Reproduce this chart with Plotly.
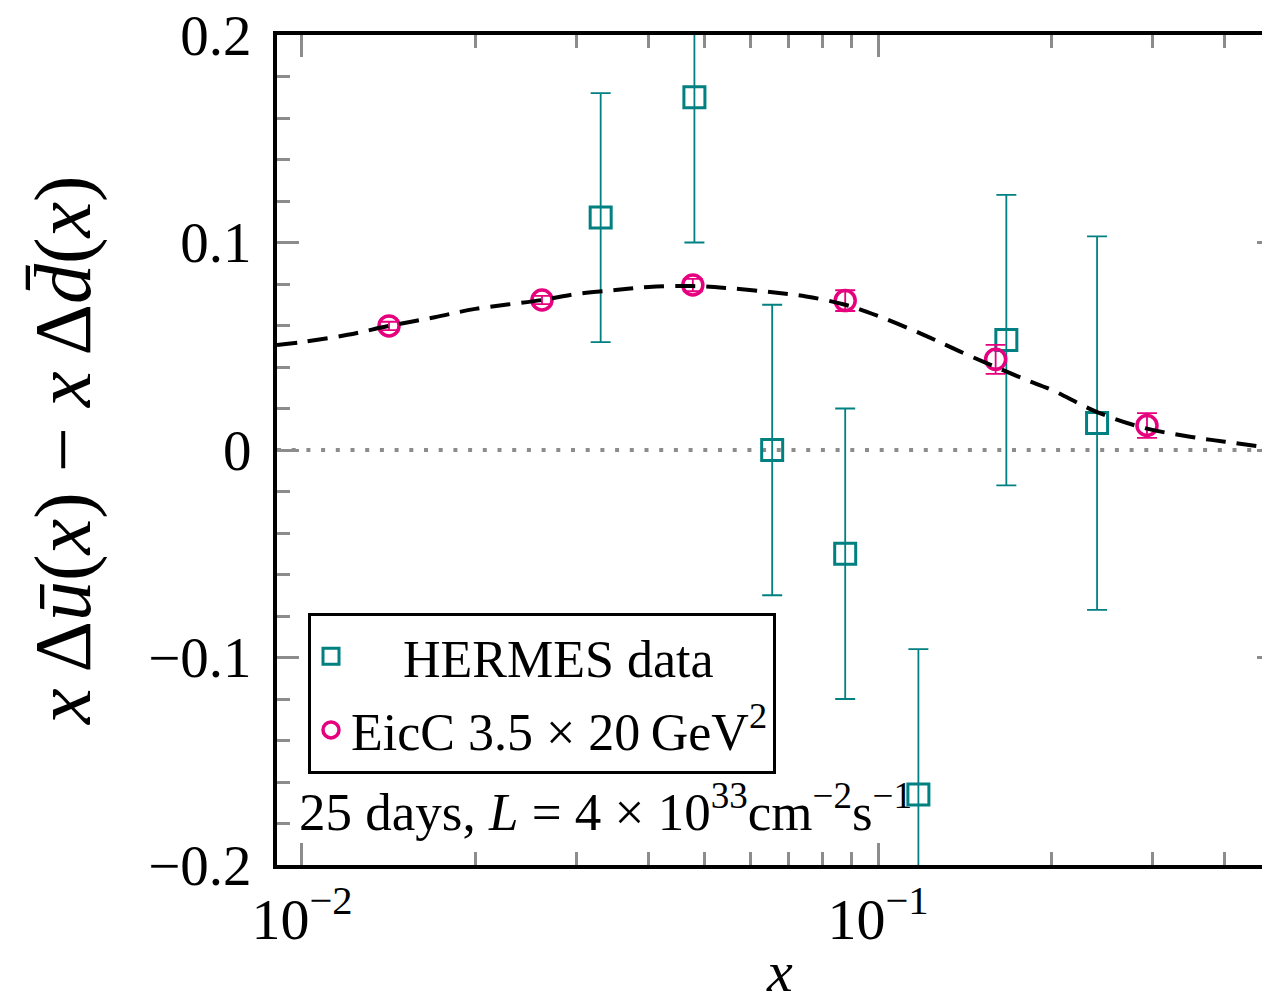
import numpy as np
import plotly.graph_objects as go

# ---- data ----
hermes_x = [0.033, 0.048, 0.0655, 0.0877, 0.1175, 0.167, 0.240]
hermes_y = [0.112, 0.170, 0.000, -0.050, -0.166, 0.053, 0.013]
hermes_err = [0.060, 0.070, 0.070, 0.070, 0.070, 0.070, 0.090]

eicc_x = [0.01416, 0.0261, 0.0477, 0.0877, 0.160, 0.293]
eicc_y = [0.0598, 0.0723, 0.0795, 0.0720, 0.0437, 0.0118]
eicc_err = [0.002, 0.002, 0.003, 0.005, 0.007, 0.006]

curve_x = [0.00905, 0.010, 0.012, 0.01416, 0.017, 0.020, 0.0261, 0.030, 0.035, 0.040,
           0.0477, 0.055, 0.065, 0.075, 0.0877, 0.100, 0.120, 0.140, 0.160, 0.180,
           0.200, 0.240, 0.290, 0.350, 0.400, 0.464]
curve_y = [0.0506, 0.0520, 0.0555, 0.0598, 0.0640, 0.0680, 0.0723, 0.0752, 0.0771, 0.0786,
           0.0790, 0.0780, 0.0761, 0.0740, 0.0700, 0.0646, 0.0555, 0.0470, 0.0400, 0.0340,
           0.0290, 0.0183, 0.0106, 0.0063, 0.0040, 0.0016]

x_major = [0.01, 0.1]
x_major_text = ["10<sup>\u22122</sup>", "10<sup>\u22121</sup>"]
x_minor = [0.02, 0.03, 0.04, 0.05, 0.06, 0.07, 0.08, 0.09, 0.2, 0.3, 0.4]
y_major = [-0.2, -0.1, 0.0, 0.1, 0.2]
y_major_text = ["\u22120.2", "\u22120.1", "0", "0.1", "0.2"]

x_range = [0.00905, 0.464]
y_range = [-0.2, 0.2]

TEAL = "#008080"
MAGENTA = "#e6007e"
GREY = "#8c8c8c"
FONT = "Liberation Serif"

fig = go.Figure()

# zero line
fig.add_trace(go.Scatter(
    x=x_range, y=[0, 0], mode="lines",
    line=dict(color=GREY, width=4, dash="4px,10.7px"),
    showlegend=False, hoverinfo="skip"))

fig.add_trace(go.Scatter(
    x=hermes_x, y=hermes_y, mode="markers", name="\u00a0\u00a0\u00a0\u00a0HERMES data",
    legendgroup="h",
    marker=dict(symbol="square-open", size=21, color=TEAL, line=dict(width=3, color=TEAL)),
    error_y=dict(type="data", array=hermes_err, color=TEAL, thickness=1.8, width=10)))

fig.add_trace(go.Scatter(
    x=eicc_x, y=eicc_y, mode="markers", name="EicC 3.5 \u00d7 20\u2009GeV<sup>2</sup>",
    legendgroup="e",
    marker=dict(symbol="circle-open", size=20, color=MAGENTA, line=dict(width=3.5, color=MAGENTA)),
    error_y=dict(type="data", array=eicc_err, color=MAGENTA, thickness=1.8, width=10)))

fig.add_trace(go.Scatter(
    x=curve_x, y=curve_y, mode="lines", line=dict(color="black", width=4, dash="20px,11px"),
    line_shape="spline", showlegend=False, hoverinfo="skip"))

# invisible trace to make the right-side tick axis appear
fig.add_trace(go.Scatter(x=[x_range[0]], y=[0], yaxis="y2", mode="markers",
                         marker=dict(opacity=0), showlegend=False, hoverinfo="skip"))

fig.update_layout(
    width=1262, height=1003,
    margin=dict(l=277, r=0, t=35, b=138),
    paper_bgcolor="white", plot_bgcolor="white",
    font=dict(family=FONT, color="black"),
    xaxis=dict(
        type="log", range=[np.log10(x_range[0]), np.log10(x_range[1])],
        tickmode="array", tickvals=x_major, ticktext=x_major_text,
        ticks="inside", ticklen=22, tickwidth=3, tickcolor=GREY,
        showline=True, linewidth=4, linecolor="black", mirror="ticks",
        showgrid=False, zeroline=False,
        tickfont=dict(family=FONT, size=58), ticklabelstandoff=0,
        minor=dict(tickmode="array", tickvals=x_minor, ticks="inside", ticklen=13,
                   tickwidth=3, tickcolor=GREY, showgrid=False),
    ),
    yaxis=dict(
        range=y_range, tickmode="array", tickvals=y_major, ticktext=y_major_text,
        ticks="inside", ticklen=22, tickwidth=3, tickcolor=GREY,
        showline=True, linewidth=4, linecolor="black", mirror=False,
        showgrid=False, zeroline=False,
        tickfont=dict(family=FONT, size=57), ticklabelstandoff=10,
        minor=dict(dtick=0.02, tick0=0, ticks="inside", ticklen=13,
                   tickwidth=3, tickcolor=GREY, showgrid=False),
    ),
    yaxis2=dict(
        overlaying="y", side="right", matches="y", range=y_range,
        tickmode="array", tickvals=y_major, ticks="inside", ticklen=5, tickwidth=3,
        tickcolor=GREY, showticklabels=False, showline=False, showgrid=False, zeroline=False,
    ),
    legend=dict(
        x=(308 - 277) / 985, y=(865 - 613) / 830, xanchor="left", yanchor="top",
        bordercolor="black", borderwidth=3, bgcolor="white",
        font=dict(family=FONT, size=52), tracegroupgap=3, itemwidth=30,
    ),
    annotations=[
        dict(text="<i>x</i>\u2009\u0394<i>\u016b</i>(<i>x</i>) \u2212 <i>x</i>\u2009\u0394<i>d\u0304</i>(<i>x</i>)",
             xref="paper", yref="paper", x=0, y=0.5, xanchor="center", yanchor="middle",
             xshift=-214, textangle=-90, showarrow=False,
             font=dict(family=FONT, size=80)),
        dict(text="<i>x</i>", xref="paper", yref="paper", x=0.51, y=0, xanchor="center",
             yanchor="middle", yshift=-106, showarrow=False, font=dict(family=FONT, size=58)),
        dict(text="25 days, <i>L</i> = 4 \u00d7 10<sup>33</sup>cm<sup>\u22122</sup>s<sup>\u22121</sup>",
             xref="paper", yref="paper", x=(297 - 277) / 985, y=(865 - 808) / 830,
             xanchor="left", yanchor="middle", showarrow=False,
             font=dict(family=FONT, size=53)),
    ],
)

fig.write_html("out.html")
